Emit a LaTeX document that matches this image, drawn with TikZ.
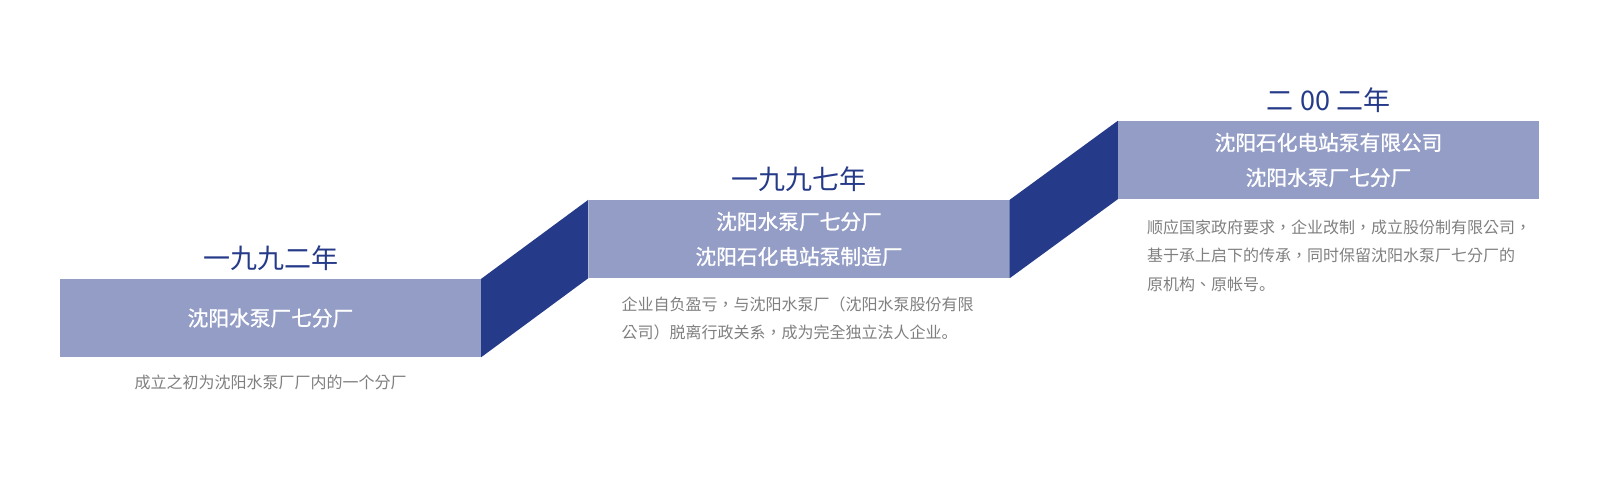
\documentclass[tikz,border=0pt]{standalone}
\usepackage{fontspec}
\setmainfont{Noto Sans CJK SC}
\newfontfamily\boxfont{Noto Sans CJK SC}[FakeBold=1.2]
\newfontfamily\descfont{Noto Sans CJK TC}
\newfontfamily\scfont{Noto Sans CJK SC}
\usetikzlibrary{positioning}
\definecolor{stepblue}{HTML}{253A89}
\definecolor{steplight}{HTML}{939DC6}
\definecolor{descgray}{HTML}{7F7F7F}
\tikzset{stepbox/.style = {fill=steplight, text=white, minimum width=421pt,
                           minimum height=78pt, inner sep=0pt, align=center,
                           font=\boxfont\fontsize{20.7}{35}\selectfont},
         riser/.style = {fill=stepblue},
         yearlabel/.style = {text=stepblue, inner sep=0pt,
                             font=\fontsize{27}{27}\selectfont},
         desclabel/.style = {text=descgray, inner sep=0pt, align=left,
                             font=\descfont\fontsize{16}{28.5}\selectfont}}

\begin{document}
\begin{tikzpicture}[x=1pt, y=-1pt]
    \useasboundingbox (0, 0) rectangle (1600, 492);
    \node (box1) at (270.5, 318) [stepbox] {沈阳水泵厂七分厂};
    \node (box2) at (799, 239) [stepbox] {沈阳水泵厂七分厂\\沈阳石化电站泵制造厂};
    \node (box3) at (1328.5, 160) [stepbox] {沈阳石化电站泵有限公司\\沈阳水泵厂七分厂};
    \fill [riser] (box1.north east) -- (box2.north west) -- (box2.south west) -- (box1.south east) -- cycle;
    \fill [riser] (box2.north east) -- (box3.north west) -- (box3.south west) -- (box2.south east) -- cycle;
    \node (year1) [yearlabel, above=8pt of box1] {一九九二年};
    \node (year2) [yearlabel, above=8pt of box2] {一九九七年};
    \node (year3) [yearlabel, above=8pt of box3] {二 00 二年};
    \node (desc1) [desclabel, below=18pt of box1] {成立之初为沈阳水泵厂厂内的一个分厂};
    \node (desc2) [desclabel, below right=18pt and 33pt of box2.south west]
      {企业自负盈亏，与沈阳水泵厂（沈阳水泵股份有限\\公司）脱离行政关系，成为完全独立法人企业{\scfont 。}};
    \node (desc3) [desclabel, below right=20pt and 29pt of box3.south west]
      {顺应国家政府要求，企业改制，成立股份制有限公司，\\基于承上启下的传承，同时保留沈阳水泵厂七分厂的\\原机构、原帐号{\scfont 。}};
  \end{tikzpicture}
\end{document}
